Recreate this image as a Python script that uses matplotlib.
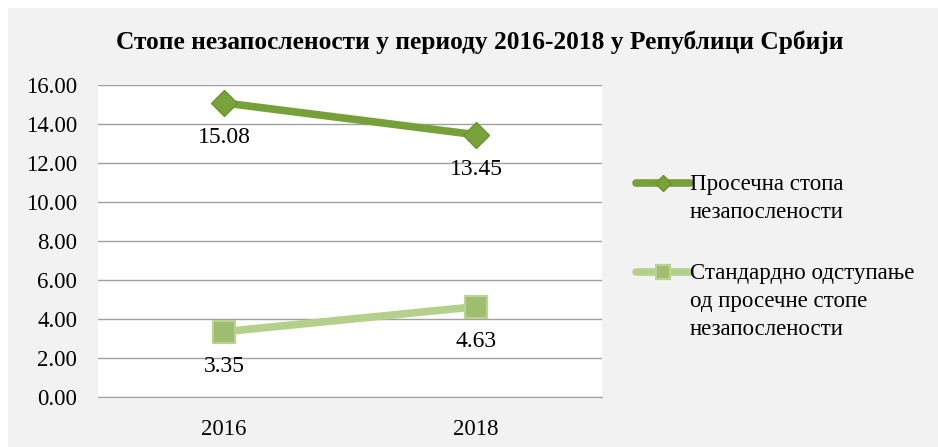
import matplotlib.pyplot as plt
from matplotlib.lines import Line2D
from matplotlib.patches import Rectangle

YEARS = ["2016", "2018"]
AVG_RATE = [15.08, 13.45]
STD_DEV = [3.35, 4.63]
SERIES_LABELS = [
    "Просечна стопа\nнезапослености",
    "Стандардно одступање\nод просечне стопе\nнезапослености",
]
TITLE = "Стопе незапослености у периоду 2016-2018 у Републици Србији"

plt.rcParams["font.family"] = ["Liberation Serif", "DejaVu Serif"]

BG = "#f2f2f2"
DARK = "#77a03a"
LIGHT = "#b4d08a"
W, H = 938, 447


def fx(px):
    return px / W


def fy(py):
    return 1 - py / H


fig = plt.figure(figsize=(9.38, 4.47), dpi=100, facecolor="white")
fig.patches.append(Rectangle((fx(8), 0), 1 - fx(8), fy(8), transform=fig.transFigure,
                             facecolor=BG, edgecolor="none", zorder=-10))

ax = fig.add_axes([fx(98), fy(397), fx(602 - 98), (397 - 85) / H])
ax.set_facecolor("white")

styles = [
    dict(color=DARK, marker="D", markersize=13, markerfacecolor="#79a33a",
         markeredgecolor="#6a9232", markeredgewidth=1),
    dict(color=LIGHT, marker="s", markersize=16, markerfacecolor="#9fbd6e",
         markeredgecolor="#b8d48e", markeredgewidth=1.5),
]

x = list(range(len(YEARS)))
for vals, st in zip([AVG_RATE, STD_DEV], styles):
    ax.plot(x, vals, lw=5.5, zorder=3, solid_capstyle="butt", **st)
    for xi, v in zip(x, vals):
        ax.annotate(f"{v:.2f}", (xi, v), xytext=(0, -25), textcoords="offset points",
                    ha="center", va="center", fontsize=17)

ax.set_xlim(-0.5, 1.5)
ax.set_ylim(0, 16)
ax.set_yticks(range(0, 17, 2))
ax.set_yticklabels([f"{t:.2f}" for t in range(0, 17, 2)])
ax.set_xticks(x)
ax.set_xticklabels(YEARS)
ax.tick_params(axis="both", length=0, labelsize=16.5)
ax.tick_params(axis="y", pad=15)
ax.tick_params(axis="x", pad=16)
ax.grid(axis="y", color="#a0a0a0", lw=1)
ax.set_axisbelow(True)
for side in ["left", "right", "top"]:
    ax.spines[side].set_visible(False)
ax.spines["bottom"].set_color("#a0a0a0")

fig.text(fx(480), fy(42), TITLE, ha="center", va="center",
         fontsize=18.3, fontweight="bold")

# legend drawn by hand so the marker sits on the first text line
legend_rows = [183, 272]
for label, st, row in zip(SERIES_LABELS, styles, legend_rows):
    mk = dict(st)
    mk["markersize"] = mk["markersize"] * 0.65
    fig.add_artist(Line2D([fx(636), fx(690)], [fy(row), fy(row)], lw=5.5,
                          color=st["color"], solid_capstyle="round",
                          transform=fig.transFigure))
    fig.add_artist(Line2D([fx(663)], [fy(row)], lw=0, transform=fig.transFigure, **mk))
    fig.text(fx(690), fy(row - 9), label, ha="left", va="top", fontsize=16.5,
             linespacing=1.45)

fig.savefig("out.png", dpi=100, facecolor="white")
